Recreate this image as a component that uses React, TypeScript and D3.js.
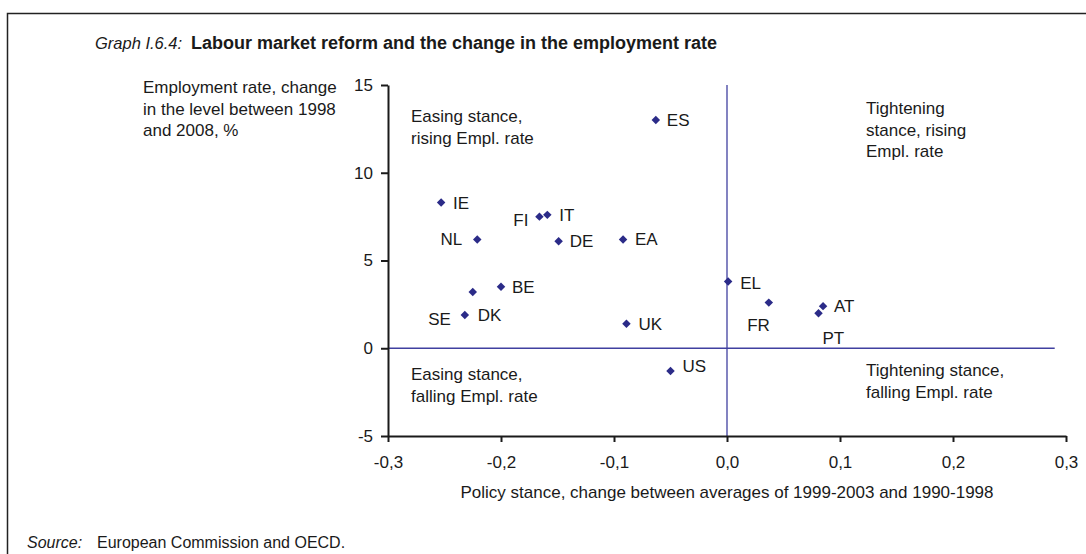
import React, { useEffect, useRef } from "react";
import * as d3 from "d3";

const countries = ["ES", "IE", "FI", "IT", "NL", "DE", "EA", "BE", "DK", "SE", "UK", "EL", "FR", "AT", "PT", "US"];
const policyStance = [-0.063, -0.253, -0.166, -0.159, -0.221, -0.149, -0.092, -0.2, -0.225, -0.232, -0.089, 0.001, 0.037, 0.085, 0.081, -0.05];
const emplChange = [13.0, 8.3, 7.5, 7.6, 6.2, 6.1, 6.2, 3.5, 3.2, 1.9, 1.4, 3.8, 2.6, 2.4, 2.0, -1.3];

const xTicks = [-0.3, -0.2, -0.1, 0.0, 0.1, 0.2, 0.3];
const yTicks = [-5, 0, 5, 10, 15];

// label placement (layout only): [dx, dy, anchor]
const labelLayout: Record<string, [number, number, string]> = {
  ES: [11, 0, "start"],
  IE: [12, 0, "start"],
  FI: [-11, 3, "end"],
  IT: [12, 0, "start"],
  NL: [-15, 0, "end"],
  DE: [11, 0, "start"],
  EA: [12, 0, "start"],
  BE: [11, 0, "start"],
  DK: [5, 23, "start"],
  SE: [-14, 4, "end"],
  UK: [12, 0, "start"],
  EL: [12, 1, "start"],
  FR: [1, 22, "end"],
  AT: [11, 0, "start"],
  PT: [4, 25, "start"],
  US: [12, -5, "start"],
};

const FONT = "'Liberation Sans', Arial, sans-serif";
const TXT = "#1a1a1a";
const NAVY = "#2b2b88";
const LINE = "#4040a0";
const FS = 17;

export default function App() {
  const ref = useRef<SVGSVGElement>(null);

  useEffect(() => {
    document.body.style.margin = "0";
    const svg = d3.select(ref.current);
    svg.selectAll("*").remove();

    const x = d3.scaleLinear().domain([-0.3, 0.3]).range([388, 1066]);
    const y = d3.scaleLinear().domain([-5, 15]).range([436, 85]);

    // outer frame
    svg.append("rect").attr("x", 7.5).attr("y", 13.5).attr("width", 1200).attr("height", 700)
      .attr("fill", "none").attr("stroke", "#222").attr("stroke-width", 1.5);

    // title
    const title = svg.append("text").attr("x", 95).attr("y", 49).attr("font-family", FONT).attr("fill", TXT);
    title.append("tspan").attr("font-style", "italic").attr("font-size", 16.5).text("Graph I.6.4:");
    title.append("tspan").attr("x", 191).attr("font-weight", "bold").attr("font-size", 18)
      .text("Labour market reform and the change in the employment rate");

    // y axis title
    const yt = svg.append("text").attr("font-family", FONT).attr("font-size", FS).attr("fill", TXT);
    ["Employment rate, change", "in the level between 1998", "and 2008, %"].forEach((t, i) => {
      yt.append("tspan").attr("x", 143).attr("y", 93 + i * 21.7).text(t);
    });

    // reference lines
    svg.append("line").attr("x1", x(0)).attr("x2", x(0)).attr("y1", y(15)).attr("y2", y(-5))
      .attr("stroke", LINE).attr("stroke-width", 1.3);
    svg.append("line").attr("x1", x(-0.3)).attr("x2", x(0.29)).attr("y1", y(0)).attr("y2", y(0))
      .attr("stroke", LINE).attr("stroke-width", 1.3);

    // axes
    const fmt = (d: number) => d3.format(".1f")(d).replace(".", ",").replace("−", "-");
    const gx = svg.append("g").attr("transform", `translate(0,${y(-5)})`)
      .call(d3.axisBottom(x).tickValues(xTicks).tickFormat(fmt as any).tickSizeInner(6).tickSizeOuter(0).tickPadding(14));
    const gy = svg.append("g").attr("transform", `translate(${x(-0.3)},0)`)
      .call(d3.axisLeft(y).tickValues(yTicks).tickFormat(d3.format("d") as any).tickSizeInner(7).tickSizeOuter(0).tickPadding(8));
    [gx, gy].forEach((g) => {
      g.select(".domain").attr("stroke", "#1a1a1a").attr("stroke-width", 2);
      g.selectAll(".tick line").attr("stroke", "#1a1a1a").attr("stroke-width", 2);
      g.selectAll(".tick text").attr("font-family", FONT).attr("font-size", FS).attr("fill", TXT);
    });
    gy.selectAll(".tick text").text((d: any) => String(d).replace("−", "-"));

    // x axis title
    svg.append("text").attr("x", x(0)).attr("y", 498).attr("text-anchor", "middle")
      .attr("font-family", FONT).attr("font-size", FS).attr("fill", TXT)
      .text("Policy stance, change between averages of 1999-2003 and 1990-1998");

    // quadrant notes
    const note = (lines: string[], px: number, py: number) => {
      const t = svg.append("text").attr("font-family", FONT).attr("font-size", FS).attr("fill", TXT);
      lines.forEach((l, i) => t.append("tspan").attr("x", px).attr("y", py + i * 21.7).text(l));
    };
    note(["Easing stance,", "rising Empl. rate"], 411, 122);
    note(["Tightening", "stance, rising", "Empl. rate"], 866, 114);
    note(["Easing stance,", "falling Empl. rate"], 411, 380);
    note(["Tightening stance,", "falling Empl. rate"], 866, 376);

    // points
    const diamond = d3.symbol().type(d3.symbolSquare).size(36);
    countries.forEach((c, i) => {
      const px = x(policyStance[i]);
      const py = y(emplChange[i]);
      svg.append("path").attr("d", diamond()).attr("fill", NAVY)
        .attr("transform", `translate(${px},${py}) rotate(45)`);
      const [dx, dy, anchor] = labelLayout[c];
      svg.append("text").attr("x", px + dx).attr("y", py + dy + 6).attr("text-anchor", anchor)
        .attr("font-family", FONT).attr("font-size", FS).attr("fill", TXT).text(c);
    });

    // source
    const src = svg.append("text").attr("x", 27).attr("y", 548).attr("font-family", FONT).attr("font-size", 16).attr("fill", TXT);
    src.append("tspan").attr("font-style", "italic").text("Source:");
    src.append("tspan").attr("x", 97).text("European Commission and OECD.");
  }, []);

  return <svg ref={ref} width={1086} height={554} style={{ display: "block", background: "#fff" }} />;
}
